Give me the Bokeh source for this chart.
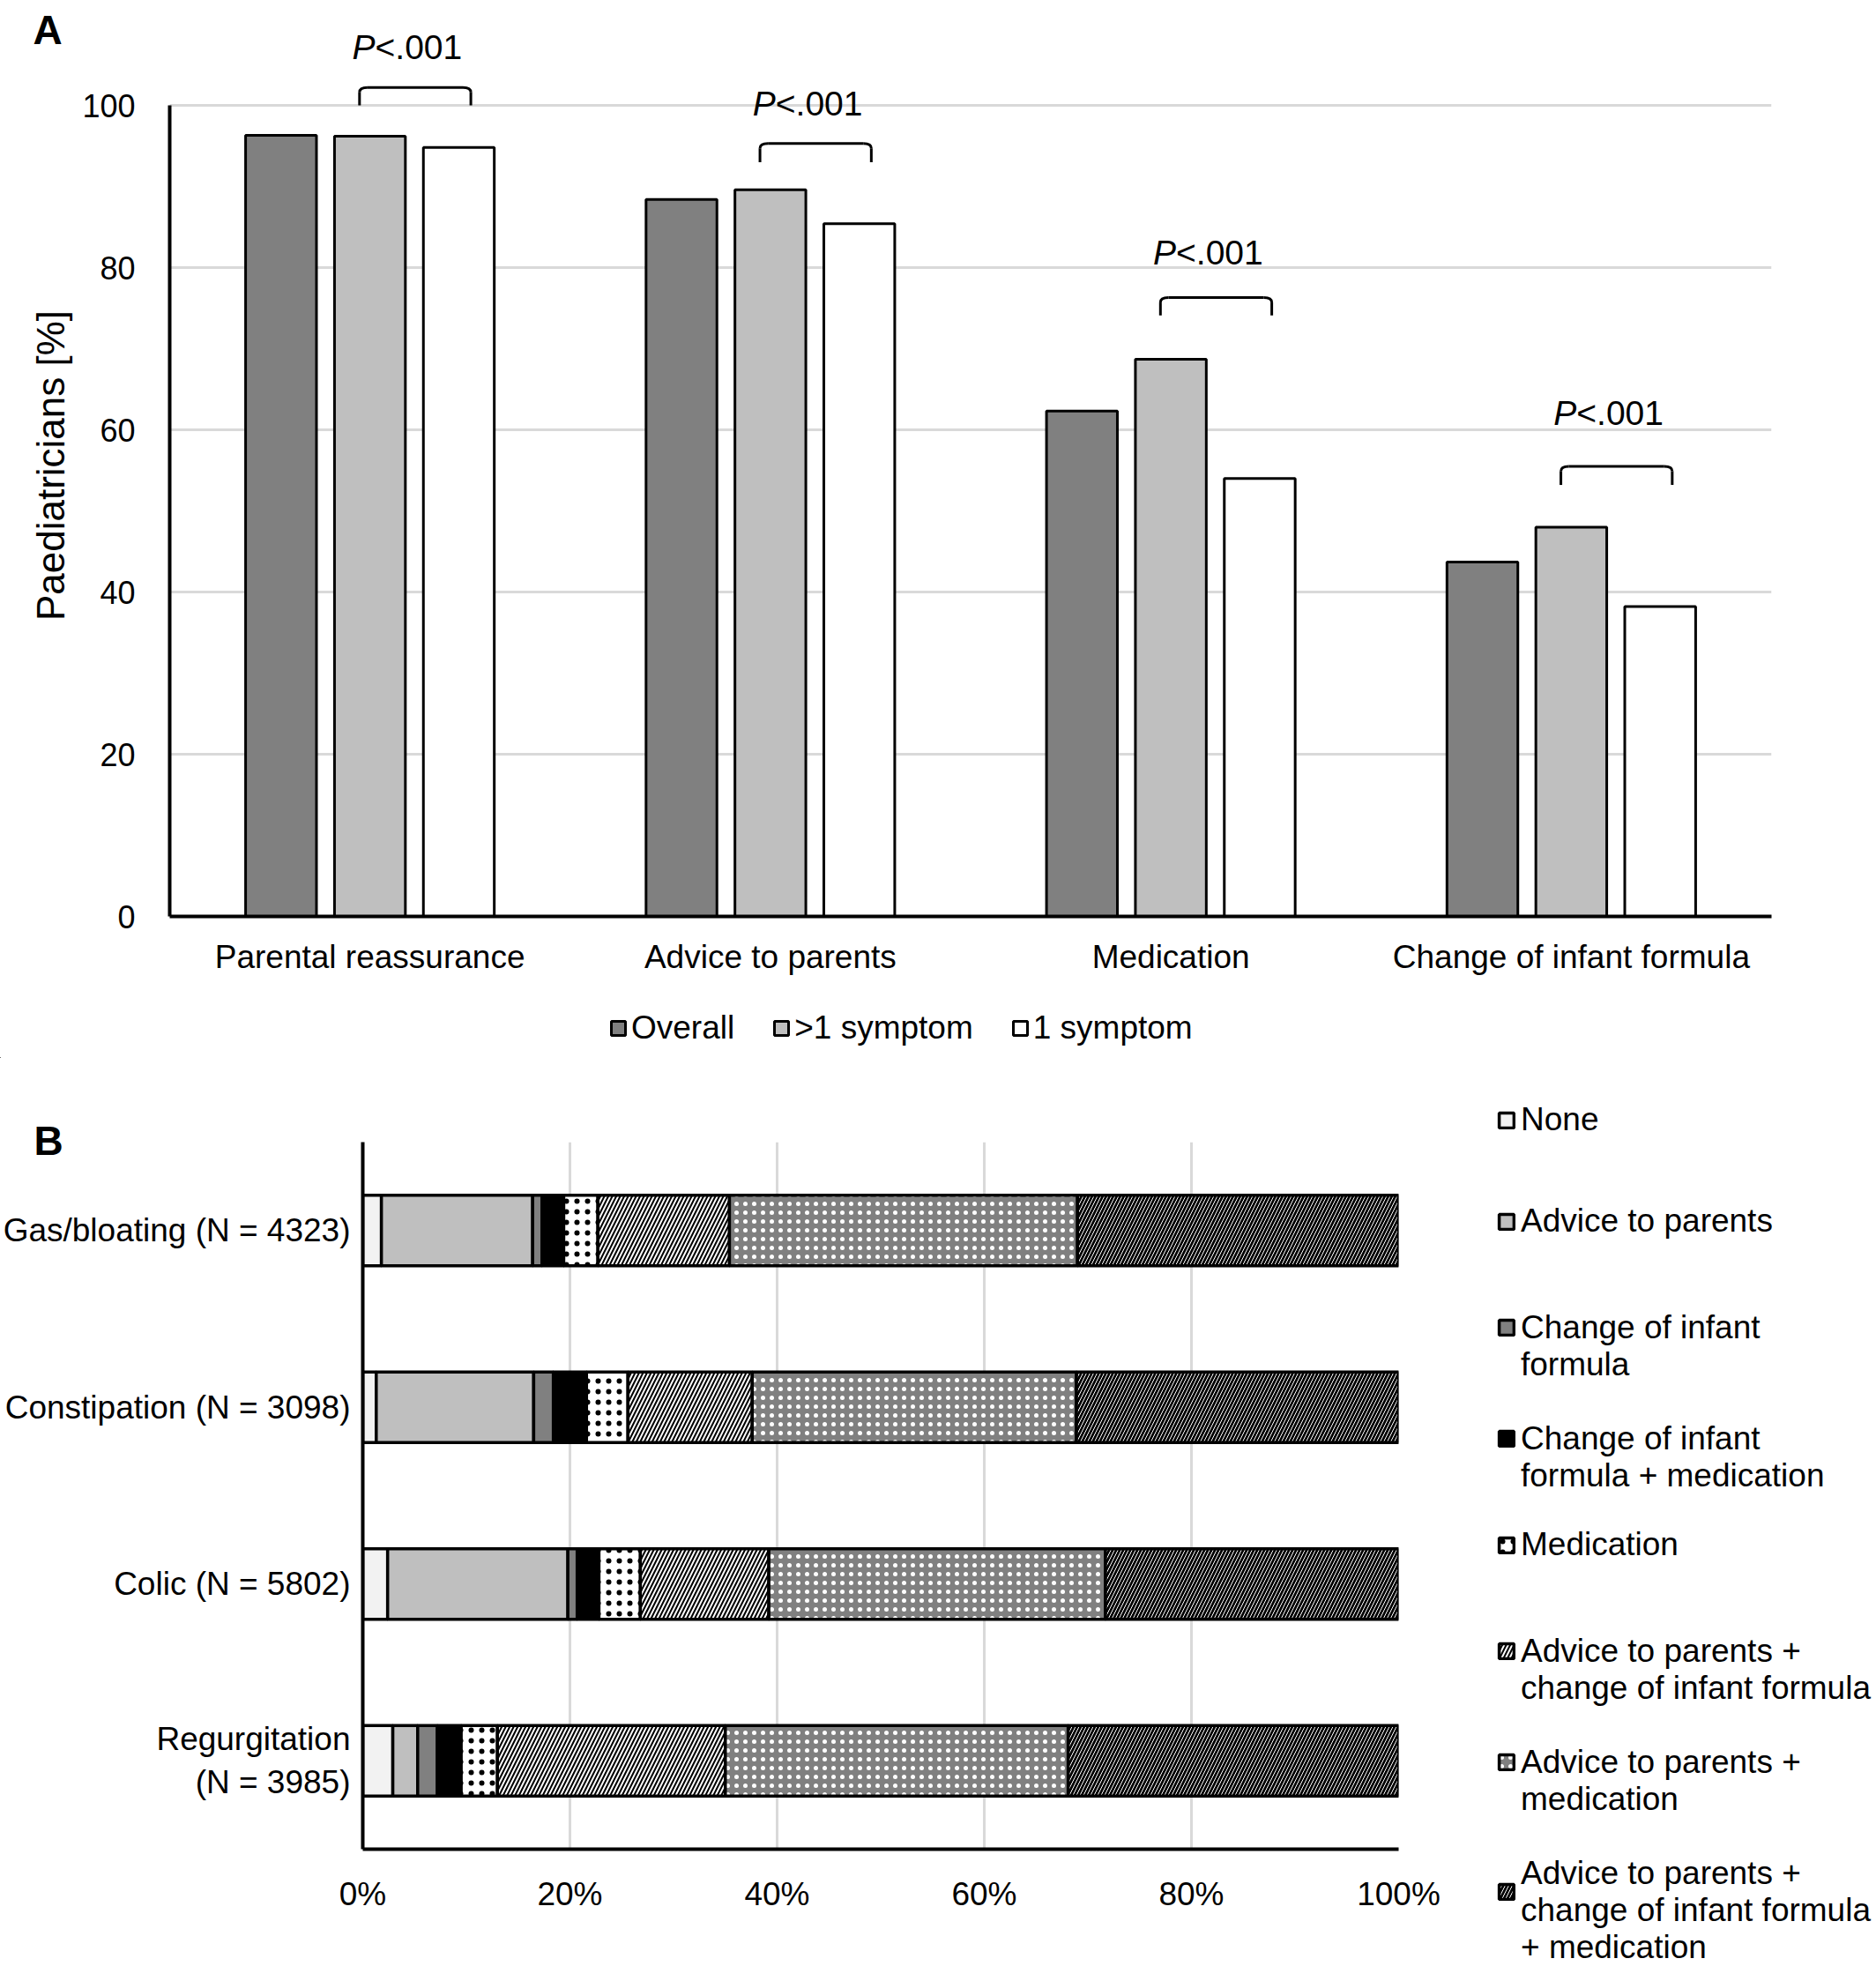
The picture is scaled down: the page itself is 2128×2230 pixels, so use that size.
from bokeh.plotting import figure
from bokeh.models import (ColumnDataSource, FactorRange, Range1d, Legend, LegendItem,
                          Title, FixedTicker, PrintfTickFormatter)
from bokeh.transform import dodge
from bokeh.core.properties import value
from bokeh.embed import file_html
from bokeh.resources import INLINE

FONT = "Liberation Sans"

# ---------------- data: panel A ----------------
strategies = ["Parental reassurance", "Advice to parents", "Medication", "Change of infant formula"]
overall = [96.3, 88.4, 62.3, 43.7]
more_than_one_symptom = [96.2, 89.6, 68.7, 48.0]
one_symptom = [94.8, 85.4, 54.0, 38.2]
series_names = ["Overall", ">1 symptom", "1 symptom"]
p_value_text = ["<.001", "<.001", "<.001", "<.001"]

# annotation heights (percentage scale) of the significance brackets / labels
bracket_base = [100.0, 93.0, 74.1, 53.2]
bracket_top = [102.2, 95.3, 76.3, 55.5]
p_label_baseline = [107.2, 100.2, 81.8, 62.1]

# ---------------- data: panel B ----------------
symptoms = ["Gas/bloating (N = 4323)", "Constipation (N = 3098)", "Colic (N = 5802)",
            "Regurgitation\n(N = 3985)"]
none_pct = [1.8, 1.3, 2.4, 2.9]
advice_pct = [14.6, 15.2, 17.4, 2.4]
formula_pct = [0.9, 1.9, 0.9, 1.9]
formula_med_pct = [2.1, 3.2, 2.1, 2.3]
medication_pct = [3.3, 4.0, 4.0, 3.5]
advice_formula_pct = [12.7, 12.0, 12.4, 22.0]
advice_med_pct = [33.6, 31.3, 32.5, 33.1]
advice_formula_med_pct = [31.0, 31.1, 28.3, 31.9]
legend_lines_b = [["None"],
                  ["Advice to parents"],
                  ["Change of infant", "formula"],
                  ["Change of infant", "formula + medication"],
                  ["Medication"],
                  ["Advice to parents +", "change of infant formula"],
                  ["Advice to parents +", "medication"],
                  ["Advice to parents +", "change of infant formula", "+ medication"]]

W = 2128

def style_axis(ax, size):
    ax.axis_line_color = "black"
    ax.axis_line_width = 4
    ax.major_tick_line_color = None
    ax.minor_tick_line_color = None
    ax.major_label_text_font = FONT
    ax.major_label_text_color = "black"
    ax.major_label_text_font_size = size

# ================= panel A =================
A_FRAME_H = 1023
PX_PER_UNIT = 9.2
pa = figure(x_range=FactorRange(*strategies), y_range=Range1d(0, A_FRAME_H / PX_PER_UNIT),
            frame_width=1817, frame_height=A_FRAME_H,
            min_border_left=192, min_border_right=W - 192 - 1817, min_border_top=16,
            min_border_bottom=91, output_backend="svg", toolbar_location=None)
pa.outline_line_color = None

srcA = ColumnDataSource(dict(strategy=strategies, overall=overall, multi=more_than_one_symptom,
                             single=one_symptom, base=bracket_base, top=bracket_top,
                             corner=[t - 0.6 for t in bracket_top],
                             pty=p_label_baseline, ptxt=p_value_text,
                             psym=["P"] * len(strategies)))

offsets = [-0.222, 0.0, 0.222]
fields = ["overall", "multi", "single"]
fills_a = ["#808080", "#bfbfbf", "#ffffff"]
for off, f, c in zip(offsets, fields, fills_a):
    pa.vbar(x=dodge("strategy", off, range=pa.x_range), top=f, width=0.177, source=srcA,
            fill_color=c, line_color="black", line_width=3)

# significance brackets
L, R, DX = -0.026, 0.252, 0.02
def dx(o):
    return dodge("strategy", o, range=pa.x_range)
bk = dict(source=srcA, line_color="black", line_width=3)
pa.segment(x0=dx(L), y0="base", x1=dx(L), y1="corner", **bk)
pa.quadratic(x0=dx(L), y0="corner", x1=dx(L + DX), y1="top", cx=dx(L), cy="top", **bk)
pa.segment(x0=dx(L + DX), y0="top", x1=dx(R - DX), y1="top", **bk)
pa.quadratic(x0=dx(R - DX), y0="top", x1=dx(R), y1="corner", cx=dx(R), cy="top", **bk)
pa.segment(x0=dx(R), y0="corner", x1=dx(R), y1="base", **bk)

SPLIT = 0.013
pa.text(x=dx(SPLIT), y="pty", text="psym", source=srcA, text_font=value(FONT),
        text_font_style="italic", text_font_size="39px", text_align="right",
        text_baseline="alphabetic", text_color="black")
pa.text(x=dx(SPLIT), y="pty", text="ptxt", source=srcA, text_font=value(FONT),
        text_font_size="39px", text_align="left", text_baseline="alphabetic", text_color="black")

pa.yaxis.ticker = FixedTicker(ticks=[0, 20, 40, 60, 80, 100])
pa.yaxis.bounds = (0, 100)
pa.ygrid.ticker = FixedTicker(ticks=[0, 20, 40, 60, 80, 100])
pa.ygrid.grid_line_color = "#d9d9d9"
pa.ygrid.grid_line_width = 3
pa.xgrid.grid_line_color = None
style_axis(pa.xaxis[0], "37px")
style_axis(pa.yaxis[0], "36px")
pa.yaxis.major_label_standoff = 33
pa.xaxis.major_label_standoff = 19
pa.yaxis.axis_label = "Paediatricians [%]"
pa.yaxis.axis_label_text_font = FONT
pa.yaxis.axis_label_text_font_size = "44px"
pa.yaxis.axis_label_text_font_style = "normal"
pa.yaxis.axis_label_text_color = "black"
pa.yaxis.axis_label_standoff = 8

pa.add_layout(Title(text="A", align="left", offset=-155, standoff=-87, text_font=FONT,
                    text_font_style="bold", text_font_size="46px", text_color="black"), "above")

# ---------- legend strip of panel A ----------
lf = figure(width=W, height=70, x_range=Range1d(0, 1), y_range=Range1d(0, 1),
            x_axis_type=None, y_axis_type=None, min_border=0,
            output_backend="svg", toolbar_location=None)
lf.outline_line_color = None
# legend keys only (placed outside the visible range of this strip)
keys_a = [lf.vbar(x=[-5], top=[0], width=0.1, fill_color=c, line_color="black", line_width=3)
          for c in fills_a]
legA = Legend(items=[LegendItem(label=n, renderers=[r]) for n, r in zip(series_names, keys_a)],
              orientation="horizontal", location=(691, 12.5),
              glyph_width=20, glyph_height=20, label_standoff=5, spacing=43,
              padding=0, margin=0, label_height=44,
              border_line_color=None, background_fill_alpha=0,
              label_text_font=FONT, label_text_font_size="37px", label_text_color="black")
lf.add_layout(legA)

# ================= panel B =================
B_TOP, B_FRAME_H, B_LEFT, B_FRAME_W = 95, 802, 408, 1175
pb = figure(y_range=FactorRange(*reversed(symptoms)), x_range=Range1d(0, 100),
            frame_width=B_FRAME_W, frame_height=B_FRAME_H,
            min_border_left=B_LEFT, min_border_right=W - B_LEFT - B_FRAME_W,
            min_border_top=B_TOP, min_border_bottom=1030 - B_TOP - B_FRAME_H,
            output_backend="svg", toolbar_location=None)
pb.outline_line_color = None

stack_fields = ["none", "advice", "formula", "formula_med", "medication",
                "advice_formula", "advice_med", "advice_formula_med"]
srcB = ColumnDataSource(dict(symptom=symptoms, none=none_pct, advice=advice_pct,
                             formula=formula_pct, formula_med=formula_med_pct,
                             medication=medication_pct, advice_formula=advice_formula_pct,
                             advice_med=advice_med_pct, advice_formula_med=advice_formula_med_pct))
fills_b = ["#f2f2f2", "#bfbfbf", "#808080", "#000000", "#ffffff", "#ffffff", "#808080", "#000000"]
hatches = [None, None, None, None, ".", "/", ".", "/"]
hatch_colors = ["black", "black", "black", "black", "black", "black", "white", "white"]
hatch_scales = [10, 10, 10, 10, 12, 9, 10, 8]
hatch_weights = [1, 1, 1, 1, 2.5, 2, 2.5, 1]
rs_b = pb.hbar_stack(stack_fields, y="symptom", height=0.4, source=srcB,
                     fill_color=fills_b, hatch_pattern=hatches, hatch_color=hatch_colors,
                     hatch_scale=hatch_scales, hatch_weight=hatch_weights,
                     line_color="black", line_width=3.5)

pb.xaxis.ticker = FixedTicker(ticks=[0, 20, 40, 60, 80, 100])
pb.xaxis.formatter = PrintfTickFormatter(format="%d%%")
pb.xgrid.ticker = FixedTicker(ticks=[0, 20, 40, 60, 80, 100])
pb.xgrid.grid_line_color = "#d9d9d9"
pb.xgrid.grid_line_width = 3
pb.ygrid.grid_line_color = None
style_axis(pb.xaxis[0], "37px")
style_axis(pb.yaxis[0], "37px")
pb.xaxis.major_label_standoff = 24
pb.yaxis.major_label_standoff = 8

# legend B: multi-line entries get one blank leading line, so that the key (centred on
# the text block) sits beside the first line of text
def padded(lines):
    return lines[0] if len(lines) == 1 else "\n".join([" "] + lines)

legB = Legend(items=[LegendItem(label=padded(lines), renderers=[r])
                     for lines, r in zip(legend_lines_b, rs_b)],
              location=(112, -132.5), glyph_width=21, glyph_height=21,
              label_standoff=6, spacing=0, padding=0, margin=0,
              label_height=115, border_line_color=None, background_fill_alpha=0,
              label_text_font=FONT, label_text_font_size="37px", label_text_color="black")
pb.add_layout(legB, "right")

pb.add_layout(Title(text="B", align="left", offset=35 - B_LEFT, standoff=-48, text_font=FONT,
                    text_font_style="bold", text_font_size="46px", text_color="black"), "above")

open("out.html", "w").write(file_html([pa, lf, pb], INLINE))
